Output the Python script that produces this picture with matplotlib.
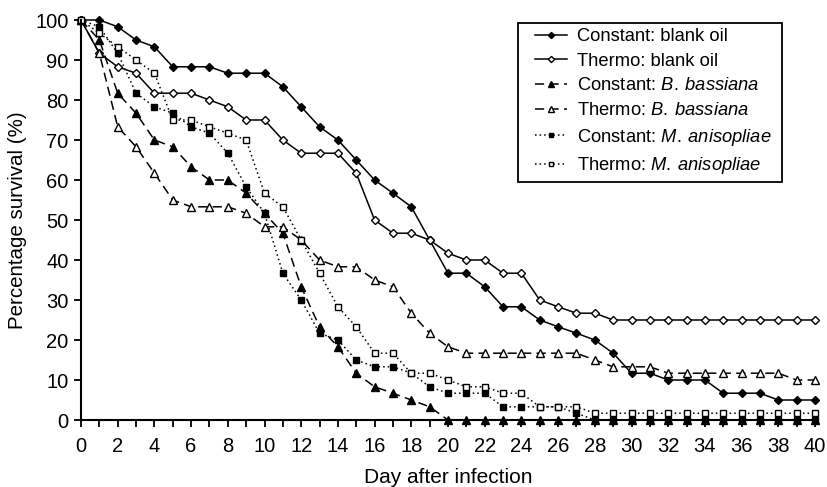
import matplotlib
matplotlib.use("Agg")
import matplotlib.pyplot as plt
from matplotlib.patches import Rectangle

plt.rcParams['font.family'] = ['Liberation Sans', 'DejaVu Sans']
plt.rcParams['mathtext.fontset'] = 'custom'
plt.rcParams['mathtext.rm'] = 'Liberation Sans'
plt.rcParams['mathtext.it'] = 'Liberation Sans:italic'

days = list(range(0, 41))

const_blank = [100, 100, 98.3, 95, 93.3, 88.3, 88.3, 88.3, 86.7, 86.7, 86.7,
               83.3, 78.3, 73.3, 70, 65, 60, 56.7, 53.3, 45, 36.7,
               36.7, 33.3, 28.3, 28.3, 25, 23.3, 21.7, 20, 16.7, 11.7,
               11.7, 10, 10, 10, 6.7, 6.7, 6.7, 5, 5, 5]
thermo_blank = [100, 91.7, 88.3, 86.7, 81.7, 81.7, 81.7, 80, 78.3, 75, 75,
                70, 66.7, 66.7, 66.7, 61.7, 50, 46.7, 46.7, 45, 41.7,
                40, 40, 36.7, 36.7, 30, 28.3, 26.7, 26.7, 25, 25,
                25, 25, 25, 25, 25, 25, 25, 25, 25, 25]
const_bb = [100, 95, 81.7, 76.7, 70, 68.3, 63.3, 60, 60, 56.7, 51.7,
            46.7, 33.3, 23.3, 18.3, 11.7, 8.3, 6.7, 5, 3.3, 0,
            0, 0, 0, 0, 0, 0, 0, 0, 0, 0,
            0, 0, 0, 0, 0, 0, 0, 0, 0, 0]
thermo_bb = [100, 91.7, 73.3, 68.3, 61.7, 55, 53.3, 53.3, 53.3, 51.7, 48.3,
             48.3, 45, 40, 38.3, 38.3, 35, 33.3, 26.7, 21.7, 18.3,
             16.7, 16.7, 16.7, 16.7, 16.7, 16.7, 16.7, 15, 13.3, 13.3,
             13.3, 11.7, 11.7, 11.7, 11.7, 11.7, 11.7, 11.7, 10, 10]
const_ma = [100, 98.3, 91.7, 81.7, 78.3, 76.7, 73.3, 71.7, 66.7, 58.3, 51.7,
            36.7, 30, 21.7, 20, 15, 13.3, 13.3, 11.7, 8.3, 6.7,
            6.7, 6.7, 3.3, 3.3, 3.3, 3.3, 1.7, 0, 0, 0,
            0, 0, 0, 0, 0, 0, 0, 0, 0, 0]
thermo_ma = [100, 96.7, 93.3, 90, 86.7, 75, 75, 73.3, 71.7, 70, 56.7,
             53.3, 45, 36.7, 28.3, 23.3, 16.7, 16.7, 11.7, 11.7, 10,
             8.3, 8.3, 6.7, 6.7, 3.3, 3.3, 3.3, 1.7, 1.7, 1.7,
             1.7, 1.7, 1.7, 1.7, 1.7, 1.7, 1.7, 1.7, 1.7, 1.7]

labels = ['Constant: blank oil', 'Thermo: blank oil',
          r'Constant: $\it{B.\:bassiana}$', r'Thermo: $\it{B.\:bassiana}$',
          r'Constant: $\it{M.\:anisopliae}$', r'Thermo: $\it{M.\:anisopliae}$']

fig = plt.figure(figsize=(8.27, 4.87), dpi=100)
ax = fig.add_axes([81/827, 67/487, 734/827, 400/487])

lw = 1.1
series = [
    (const_blank, dict(marker='D', ms=4.5, mfc='black', mec='black', ls='-')),
    (thermo_blank, dict(marker='D', ms=4.5, mfc='white', mec='black', ls='-')),
    (const_bb, dict(marker='^', ms=6, mfc='black', mec='black', ls=(0, (6, 3.5)))),
    (thermo_bb, dict(marker='^', ms=6, mfc='white', mec='black', ls=(0, (6, 3.5)))),
    (const_ma, dict(marker='s', ms=5, mfc='black', mec='black', ls=(0, (1, 2)))),
    (thermo_ma, dict(marker='s', ms=5, mfc='white', mec='black', ls=(0, (1, 2)))),
]
for (vals, st), lab in zip(series, labels):
    ax.plot(days, vals, color='black', lw=lw, mew=1.0, label=lab, clip_on=False, **st)

ax.set_xlim(0, 40)
ax.set_ylim(0, 100)
ax.set_xticks(range(0, 41))
ax.set_xticklabels([str(d) if d % 2 == 0 else '' for d in range(0, 41)])
ax.set_yticks(range(0, 101, 10))
for s in ['top', 'right']:
    ax.spines[s].set_visible(False)
for s in ['left', 'bottom']:
    ax.spines[s].set_linewidth(1.5)
ax.tick_params(axis='both', direction='out', length=5, width=1.3, labelsize=14.5, colors='black')
ax.tick_params(axis='x', pad=7)
ax.tick_params(axis='y', pad=4)
ax.set_xlabel('Day after infection', fontsize=15, labelpad=9)
ax.set_ylabel('Percentage survival (%)', fontsize=14.8, labelpad=6)

leg = ax.legend(loc='upper left', bbox_to_anchor=(535/827, 1 - 28/487),
                bbox_transform=fig.transFigure, fontsize=13.2, frameon=False,
                handlelength=1.75, handletextpad=0.55, labelspacing=0.42,
                borderpad=0, borderaxespad=0, markerscale=0.7)
fig.patches.append(Rectangle((518/827, 1 - 182/487), 264/827, 159/487,
                             transform=fig.transFigure, fill=False,
                             edgecolor='black', linewidth=1.3))

fig.savefig('out.png', dpi=100)
